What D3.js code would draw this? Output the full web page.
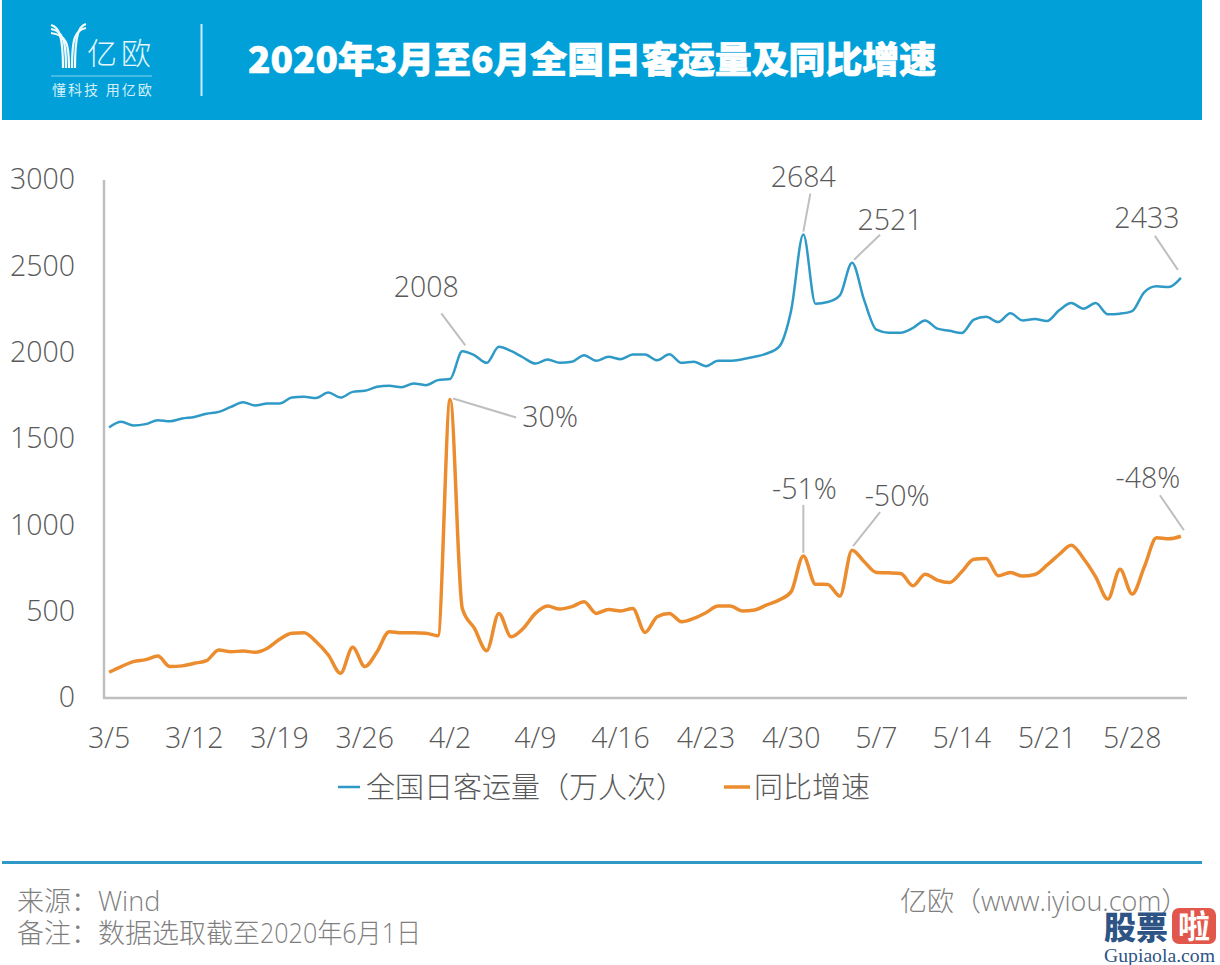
<!DOCTYPE html>
<html>
<head>
<meta charset="utf-8">
<script src="https://cdn.jsdelivr.net/npm/d3@7"></script>
<style>
	html, body { margin: 0; padding: 0; background: #fff; }
	svg { display: block; }
	text { font-family: "Open Sans", "Noto Sans CJK SC", sans-serif; font-weight: 300; fill: #595959; }
</style>
</head>
<body>
<div id="chart"></div>
<script>
const dates = [
	'3/5','3/6','3/7','3/8','3/9','3/10','3/11','3/12','3/13','3/14','3/15','3/16','3/17','3/18','3/19','3/20','3/21','3/22','3/23','3/24','3/25','3/26','3/27','3/28','3/29','3/30','3/31',
	'4/1','4/2','4/3','4/4','4/5','4/6','4/7','4/8','4/9','4/10','4/11','4/12','4/13','4/14','4/15','4/16','4/17','4/18','4/19','4/20','4/21','4/22','4/23','4/24','4/25','4/26','4/27','4/28','4/29','4/30',
	'5/1','5/2','5/3','5/4','5/5','5/6','5/7','5/8','5/9','5/10','5/11','5/12','5/13','5/14','5/15','5/16','5/17','5/18','5/19','5/20','5/21','5/22','5/23','5/24','5/25','5/26','5/27','5/28','5/29','5/30','5/31','6/1'
];
const xTicks = ['3/5','3/12','3/19','3/26','4/2','4/9','4/16','4/23','4/30','5/7','5/14','5/21','5/28'];
const yTicks = [0, 500, 1000, 1500, 2000, 2500, 3000];

// 万人次
const passengers = [
	1567,1600,1578,1586,1609,1603,1619,1628,1646,1657,1686,1713,1694,1706,1706,1740,1744,1738,1769,1740,1773,1779,1802,1808,1800,1821,1812,1841,1848,
	2008,1985,1941,2034,2010,1972,1937,1960,1941,1947,1985,1953,1976,1962,1989,1989,1956,1991,1941,1947,1922,1953,1953,1962,1976,1995,2033,2245,
	2684,2284,2293,2332,2521,2303,2133,2116,2116,2143,2187,2139,2127,2114,2191,2208,2177,2228,2187,2195,2183,2245,2287,2255,2287,2222,2226,2241,2351,2384,2380,2433
];
// growth line, read against the left axis (the chart has no second axis)
const growth = [
	149,182,211,222,243,182,186,201,216,278,268,272,265,288,340,375,378,326,249,143,294,182,268,384,378,378,375,361,1729,
	519,403,274,490,355,403,490,533,515,529,558,490,513,504,519,380,471,490,442,461,494,533,533,504,510,539,567,616,
	823,659,658,590,856,789,727,725,721,650,717,683,669,731,804,808,708,727,706,715,769,831,885,808,702,573,746,602,760,928,922,937
];
const seriesNames = ['全国日客运量（万人次）', '同比增速'];
const calloutDates = ['4/3','5/1','5/5','6/1','4/2','5/1','5/5','6/1'];
const calloutLabels = ['2008','2684','2521','2433','30%','-51%','-50%','-48%'];

const blue = '#2f9ac6', orange = '#eb8c2f', grey = '#bfbfbf', cyan = '#02a0d9';
const cjk = '"Noto Sans CJK SC", sans-serif';

const svg = d3.select('#chart').append('svg').attr('width', 1220).attr('height', 965);

// Header
svg.append('rect').attr('x', 2).attr('y', 0).attr('width', 1200).attr('height', 120).attr('fill', cyan);
const logo = svg.append('g').attr('fill', 'none').attr('stroke', '#f2fbfe').attr('stroke-width', 2.2);
[[0, 63], [4, 66], [8, 69]].forEach(([o, sx]) => {
	logo.append('path').attr('d', `M51 ${25 + o}C${59 + o} ${27 + o} ${sx} ${36 + o} ${sx} 68`);
});
[[0, 75], [4, 72]].forEach(([o, sx]) => {
	logo.append('path').attr('d', `M86 ${24 + o}C${79 - o} ${26 + o} ${sx} ${34 + o} ${sx} 68`);
});
logo.append('line').attr('x1', 51).attr('x2', 152).attr('y1', 76).attr('y2', 76).attr('stroke', '#5cc3e8').attr('stroke-width', 1.5);
svg.append('text').attr('x', 87).attr('y', 64).attr('font-size', 30).style('fill', '#e6f6fc').attr('letter-spacing', 4).text('亿欧');
svg.append('text').attr('x', 52).attr('y', 95).attr('font-size', 14).style('fill', '#d5f0fa').style('font-weight', 400).attr('letter-spacing', 2).text('懂科技 用亿欧');
svg.append('line').attr('x1', 201.5).attr('x2', 201.5).attr('y1', 24).attr('y2', 96).attr('stroke', '#cdeaf6').attr('stroke-width', 2);
svg.append('text').attr('x', 248).attr('y', 73).attr('font-size', 36.9)
	.style('fill', '#fff').style('stroke', '#fff').style('stroke-width', 0.7).style('font-family', cjk).style('font-weight', 900)
	.text('2020年3月至6月全国日客运量及同比增速');

// Scales
const x = d3.scalePoint().domain(dates).range([103, 1187]).padding(0.5);
const y = d3.scaleLinear().domain([0, 3000]).range([698, 180]);

// Axes
const styleAxis = g => {
	g.selectAll('.domain').attr('stroke', grey).attr('stroke-width', 2.5);
	g.selectAll('text').attr('font-size', 28.5).style('font-family', '"Open Sans", sans-serif').style('font-weight', 300).style('fill', '#595959');
};
svg.append('g').attr('transform', 'translate(104,0)')
	.call(d3.axisLeft(y).tickValues(yTicks).tickSize(0).tickPadding(29).tickFormat(d => d).offset(0))
	.call(styleAxis)
	.selectAll('text').attr('dy', '0.33em');
svg.append('g').attr('transform', 'translate(0,698)')
	.call(d3.axisBottom(x).tickValues(xTicks).tickSize(0).tickPadding(30).offset(0))
	.call(styleAxis);

// Lines
const line = d3.line().x((d, i) => x(dates[i])).y(d => y(d)).curve(d3.curveMonotoneX);
svg.append('path').datum(passengers).attr('d', line).attr('fill', 'none').attr('stroke', blue).attr('stroke-width', 2.5);
svg.append('path').datum(growth).attr('d', line).attr('fill', 'none').attr('stroke', orange).attr('stroke-width', 3.5);

// Callouts: offsets of leader end points and label centres from the anchor mark
const calloutLayout = [
	{ from: [3, -6], to: [-21, -38], text: [-36, -64] },
	{ from: [0, -3], to: [7, -41], text: [0, -58] },
	{ from: [2, -3], to: [28, -28], text: [38, -43] },
	{ from: [-3, -8], to: [-26, -42], text: [-34, -60] },
	{ from: [3, -1], to: [66, 18], text: [100, 18] },
	{ from: [0, -3], to: [0, -51], text: [1, -67] },
	{ from: [1, -4], to: [28, -38], text: [45, -54] },
	{ from: [3, -6], to: [-21, -41], text: [-33, -58] }
];
const anchorValue = i => {
	const values = i < 4 ? passengers : growth;
	return values[dates.indexOf(calloutDates[i])];
};
calloutLabels.forEach((label, i) => {
	const px = x(calloutDates[i]);
	const py = y(anchorValue(i));
	const l = calloutLayout[i];
	svg.append('line')
		.attr('x1', px + l.from[0]).attr('y1', py + l.from[1])
		.attr('x2', px + l.to[0]).attr('y2', py + l.to[1])
		.attr('stroke', grey).attr('stroke-width', 2);
	svg.append('text')
		.attr('x', px + l.text[0]).attr('y', py + l.text[1])
		.attr('dy', '0.35em').attr('text-anchor', 'middle')
		.attr('font-size', 28.5).text(label);
});

// Legend
const legendRows = [[338, 360, 366, blue, 2.5], [724, 750, 754, orange, 3.5]];
seriesNames.forEach((name, i) => {
	const [x1, x2, tx, color, w] = legendRows[i];
	svg.append('line').attr('x1', x1).attr('x2', x2).attr('y1', 787).attr('y2', 787).attr('stroke', color).attr('stroke-width', w);
	svg.append('text').attr('x', tx).attr('y', 798).attr('font-size', 29).style('font-family', cjk).text(name);
});

// Footer
svg.append('rect').attr('x', 2).attr('y', 861).attr('width', 1200).attr('height', 3).attr('fill', blue);
const foot = (tx, ty, str) => svg.append('text').attr('x', tx).attr('y', ty).attr('font-size', 27).style('fill', '#7f7f7f').text(str);
foot(17, 911, '来源：Wind');
foot(17, 943, '备注：数据选取截至');
foot(260, 943, '2020年6月1日').attr('textLength', 161).attr('lengthAdjust', 'spacingAndGlyphs');
foot(900, 911, '亿欧（www.iyiou.com）');

// Site mark
svg.append('text').attr('x', 1104).attr('y', 939).attr('font-size', 32)
	.style('fill', '#2d5484').style('font-family', cjk).style('font-weight', 900).text('股票');
svg.append('rect').attr('x', 1172).attr('y', 908).attr('width', 44).attr('height', 36).attr('rx', 7).attr('fill', '#e2574c');
svg.append('text').attr('x', 1178).attr('y', 938).attr('font-size', 32)
	.style('fill', '#fff').style('font-family', cjk).style('font-weight', 700).text('啦');
svg.append('text').attr('x', 1104).attr('y', 962).attr('font-size', 19)
	.attr('textLength', 111).attr('lengthAdjust', 'spacingAndGlyphs')
	.style('fill', '#2d5484').style('font-family', '"Liberation Serif", serif').style('font-weight', 400).text('Gupiaola.com');
</script>
</body>
</html>
